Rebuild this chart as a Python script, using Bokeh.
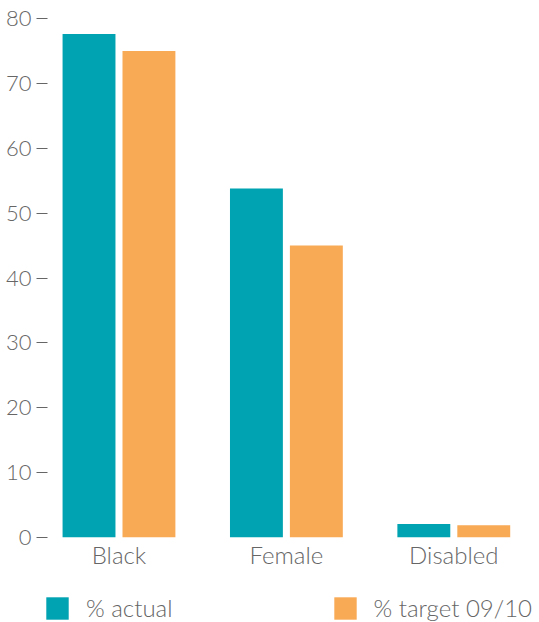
from bokeh.plotting import figure
from bokeh.models import ColumnDataSource, FixedTicker, Legend, LegendItem, Range1d
from bokeh.layouts import column, row
from bokeh.transform import dodge
from bokeh.embed import file_html
from bokeh.resources import INLINE

categories = ["Black", "Female", "Disabled"]
actual = [77.6, 53.8, 2.1]
target = [75.0, 45.0, 1.9]
y_ticks = [0, 10, 20, 30, 40, 50, 60, 70, 80]
series_labels = ["% actual", "% target 09/10"]

FONT = "Lato Light"
GREY = "#666666"
TEAL = "#00A3B1"
ORANGE = "#F9AA55"

src = ColumnDataSource(dict(x=list(range(len(categories))), cat=categories, actual=actual, target=target))

p = figure(width=539, height=580, output_backend="svg", toolbar_location=None,
           x_range=Range1d(-0.427, 2.5), y_range=Range1d(0, 80),
           min_border_left=47, min_border_top=18, min_border_right=2, min_border_bottom=43)

r1 = p.vbar(x=dodge("x", -0.179, range=p.x_range), top="actual", width=0.316, source=src,
            fill_color=TEAL, line_color=None)
r2 = p.vbar(x=dodge("x", 0.179, range=p.x_range), top="target", width=0.316, source=src,
            fill_color=ORANGE, line_color=None)

p.outline_line_color = None
p.grid.grid_line_color = None
p.background_fill_color = "white"
p.border_fill_color = "white"

ya = p.yaxis[0]
ya.ticker = FixedTicker(ticks=y_ticks)
ya.axis_line_color = None
ya.major_tick_line_color = GREY
ya.major_tick_out = 11
ya.major_tick_in = 0
ya.minor_tick_line_color = None
ya.major_label_standoff = 5
ya.major_label_text_font = FONT
ya.major_label_text_font_size = "22px"
ya.major_label_text_color = GREY

xa = p.xaxis[0]
xa.ticker = FixedTicker(ticks=list(range(len(categories))))
xa.major_label_overrides = {i: c for i, c in enumerate(categories)}
xa.axis_line_color = None
xa.major_tick_line_color = None
xa.major_tick_out = 0
xa.major_tick_in = 0
xa.minor_tick_line_color = None
xa.minor_tick_out = 0
xa.major_label_standoff = 2
xa.major_label_text_font = FONT
xa.major_label_text_font_size = "24px"
xa.major_label_text_color = GREY

# legend strip (same data; bars lie outside its visible y range, only the legend shows)
lg = figure(width=539, height=42, output_backend="svg", toolbar_location=None,
            x_range=Range1d(-0.427, 2.5), y_range=Range1d(1000, 1001),
            x_axis_location=None, y_axis_location=None,
            min_border_left=0, min_border_right=0, min_border_top=0, min_border_bottom=0)
lg.outline_line_color = None
lg.grid.grid_line_color = None
lr1 = lg.vbar(x="x", top="actual", width=0.316, source=src, fill_color=TEAL, line_color=None)
lr2 = lg.vbar(x="x", top="target", width=0.316, source=src, fill_color=ORANGE, line_color=None)

legend = Legend(items=[LegendItem(label=series_labels[0], renderers=[lr1]),
                       LegendItem(label=series_labels[1], renderers=[lr2])],
                orientation="horizontal", location=(43, 0),
                glyph_width=28, glyph_height=28, label_standoff=15, spacing=158,
                padding=0, margin=0, border_line_color=None, background_fill_alpha=0,
                label_text_font=FONT, label_text_font_size="24px", label_text_color=GREY,
                label_height=28)
lg.add_layout(legend, "center")

layout = column(p, row(lg), spacing=0)
open("out.html", "w").write(file_html(layout, INLINE))
